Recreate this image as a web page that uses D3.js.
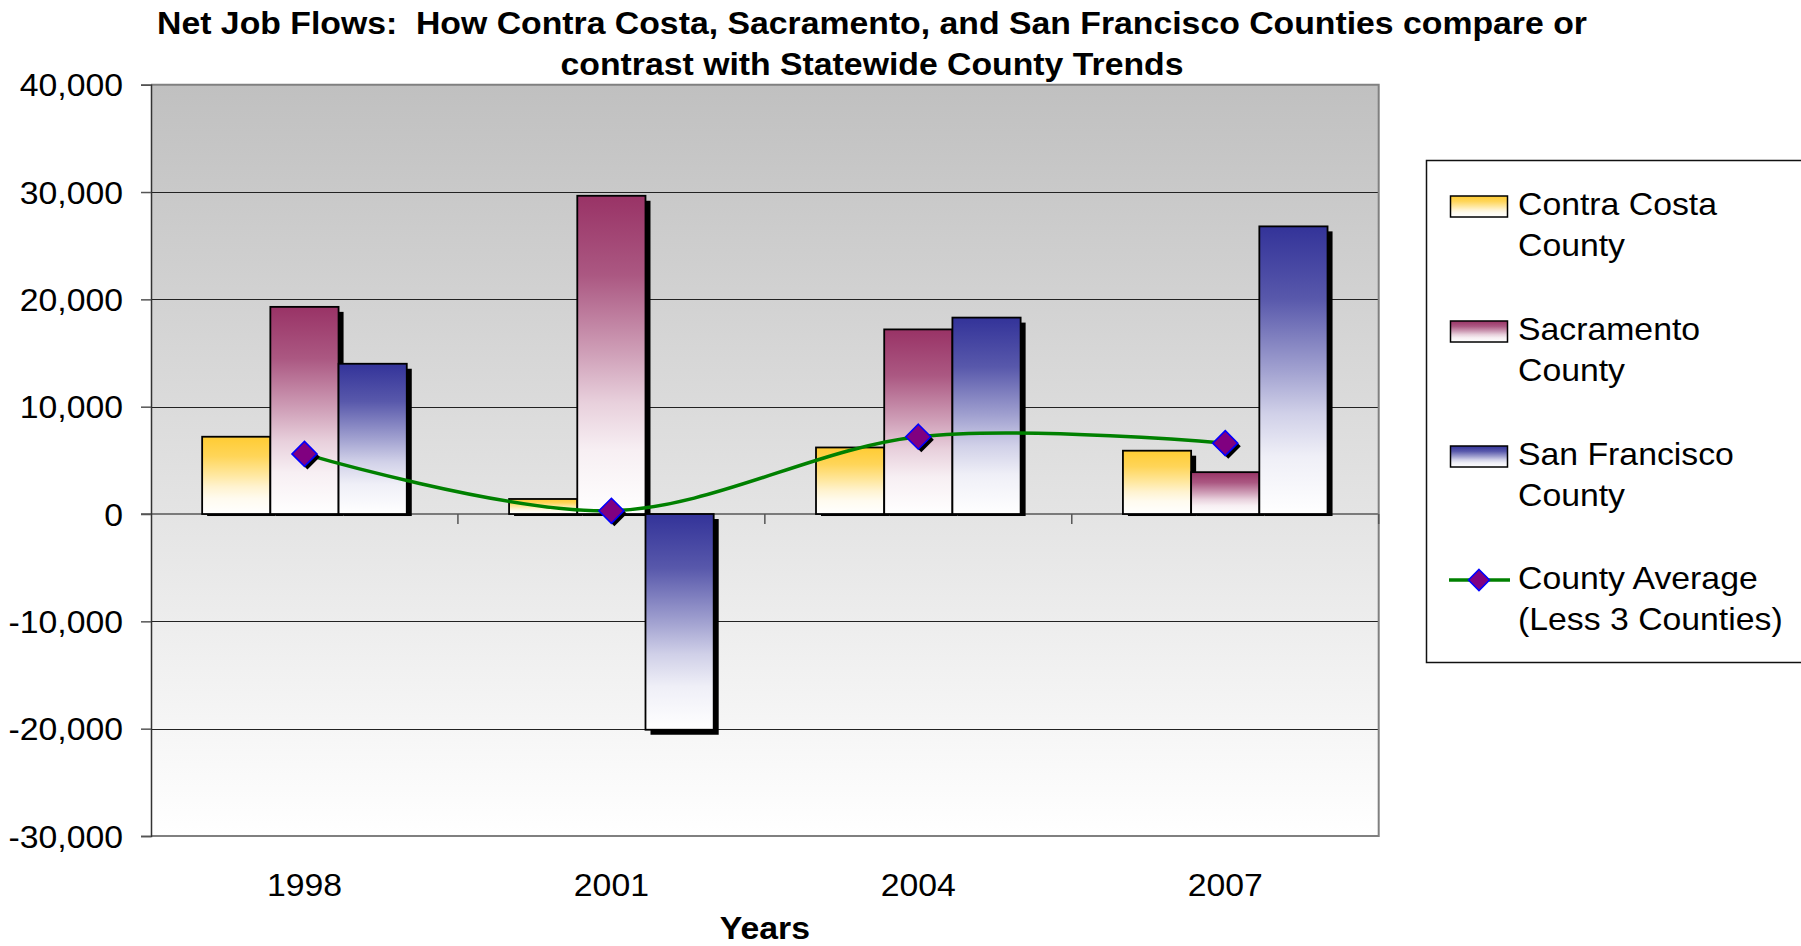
<!DOCTYPE html>
<html>
<head>
<meta charset="utf-8">
<script src="https://cdn.jsdelivr.net/npm/d3@7"></script>
<style>
  body { margin: 0; background: #fff; }
  svg { display: block; }
  text { font-family: "Liberation Sans", Arial, sans-serif; fill: #000; }
</style>
</head>
<body>
<svg id="chart" width="1801" height="946"></svg>
<script>
// ---- data ----
const categories = ["1998", "2001", "2004", "2007"];
const contraCosta = [7200, 1400, 6200, 5900];
const sacramento = [19300, 29650, 17200, 3900];
const sanFrancisco = [14000, -20100, 18300, 26800];
const countyAverage = [5600, 300, 7200, 6600];
const yTicks = [-30000, -20000, -10000, 0, 10000, 20000, 30000, 40000];
const seriesNames = ["Contra Costa County", "Sacramento County", "San Francisco County"];
const legendLines = [["Contra Costa", "County"], ["Sacramento", "County"], ["San Francisco", "County"], ["County Average", "(Less 3 Counties)"]];
const titleLines = ["Net Job Flows:  How Contra Costa, Sacramento, and San Francisco Counties compare or", "contrast with Statewide County Trends"];
const xTitle = "Years";
const seriesColors = ["#FFCC33", "#993366", "#333399"];

// ---- layout ----
const SX = 1.09; // horizontal text stretch
const FS = 31;
const plot = { left: 151, right: 1378.7, top: 84.7, bottom: 836 };

const svg = d3.select("#chart");
const defs = svg.append("defs");

const fmt = d3.formatLocale({ decimal: ".", thousands: ",", grouping: [3], currency: ["$", ""], minus: "-" }).format(",");

const x = d3.scaleBand().domain(categories).range([plot.left, plot.right]).padding(0);
const y = d3.scaleLinear().domain([-30000, 40000]).range([plot.bottom, plot.top]);
const bw = x.bandwidth() / 4.5;
const groupOff = (x.bandwidth() - 3 * bw) / 2;
const y0 = y(0);

// gradients
const whiteStops = [[0, 0], [0.25, 0.18], [0.5, 0.54], [0.65, 0.77], [0.8, 0.92], [1, 1]];
seriesColors.forEach((c, i) => {
  const g = defs.append("linearGradient").attr("id", "grad" + i)
    .attr("x1", 0).attr("y1", 0).attr("x2", 0).attr("y2", 1);
  whiteStops.forEach(([o, w]) => {
    g.append("stop").attr("offset", o).attr("stop-color", d3.interpolateRgb(c, "#ffffff")(w));
  });
});
const bg = defs.append("linearGradient").attr("id", "bggrad").attr("x1", 0).attr("y1", 0).attr("x2", 0).attr("y2", 1);
bg.append("stop").attr("offset", 0).attr("stop-color", "#C0C0C0");
bg.append("stop").attr("offset", 1).attr("stop-color", "#FFFFFF");

// plot background
svg.append("rect")
  .attr("x", plot.left).attr("y", plot.top)
  .attr("width", plot.right - plot.left).attr("height", plot.bottom - plot.top)
  .attr("fill", "url(#bggrad)");

// gridlines
svg.append("g").selectAll("line").data(yTicks.filter(t => t !== 0 && t !== 40000 && t !== -30000)).join("line")
  .attr("x1", plot.left).attr("x2", plot.right)
  .attr("y1", d => Math.round(y(d)) + 0.5).attr("y2", d => Math.round(y(d)) + 0.5)
  .attr("stroke", "#222").attr("stroke-width", 1);

// plot border (top, right, bottom)
svg.append("path")
  .attr("d", `M${plot.left},${plot.top} H${plot.right} V${plot.bottom} H${plot.left}`)
  .attr("fill", "none").attr("stroke", "#808080").attr("stroke-width", 2);

// zero axis line with boundary ticks
const zeroG = svg.append("g");
zeroG.append("line").attr("x1", plot.left - 10).attr("x2", plot.right)
  .attr("y1", y0).attr("y2", y0).attr("stroke", "#7a7a7a").attr("stroke-width", 2);
const boundaries = categories.map(c => x(c)).slice(1).concat([plot.right]);
zeroG.selectAll("line.tk").data(boundaries).join("line").attr("class", "tk")
  .attr("x1", d => d).attr("x2", d => d).attr("y1", y0).attr("y2", y0 + 10)
  .attr("stroke", "#555").attr("stroke-width", 1.5);

// bars
const allSeries = [contraCosta, sacramento, sanFrancisco];
const barsG = svg.append("g");
categories.forEach((cat, j) => {
  allSeries.forEach((vals, i) => {
    const v = vals[j];
    const bx = x(cat) + groupOff + i * bw;
    const top = Math.min(y(v), y0);
    const h = Math.abs(y(v) - y0);
    // shadow
    if (v >= 0) {
      barsG.append("rect").attr("x", bx + 5).attr("y", top + 5).attr("width", bw).attr("height", Math.max(0, h - 3)).attr("fill", "#000");
    } else {
      barsG.append("rect").attr("x", bx + 5).attr("y", y0 + 5).attr("width", bw).attr("height", h).attr("fill", "#000");
    }
    barsG.append("rect").attr("x", bx).attr("y", top).attr("width", bw).attr("height", h)
      .attr("fill", `url(#grad${i})`).attr("stroke", "#000").attr("stroke-width", 1.8);
  });
});

// y axis
const yAxis = svg.append("g").attr("transform", `translate(${plot.left},0)`)
  .call(d3.axisLeft(y).tickValues(yTicks).tickSize(10).tickFormat(fmt));
yAxis.select(".domain").attr("stroke", "#333").attr("stroke-width", 1.5);
yAxis.selectAll(".tick line").attr("stroke", "#555").attr("stroke-width", 1.5);
yAxis.selectAll(".tick text")
  .attr("x", null).attr("dy", "0.36em")
  .attr("transform", `translate(-28,0) scale(${SX},1)`)
  .attr("font-size", FS).attr("font-family", "Liberation Sans, Arial, sans-serif").attr("fill", "#000");

// x axis labels
const xAxis = svg.append("g").attr("transform", `translate(0,${plot.bottom})`)
  .call(d3.axisBottom(x).tickSize(0));
xAxis.select(".domain").remove();
xAxis.selectAll(".tick text")
  .attr("y", null).attr("dy", null)
  .attr("transform", `translate(0,60) scale(${SX},1)`)
  .attr("font-size", FS).attr("font-family", "Liberation Sans, Arial, sans-serif").attr("fill", "#000");

// average line
const cx = c => x(c) + x.bandwidth() / 2;
const line = d3.line().x((d, i) => cx(categories[i])).y(d => y(d)).curve(d3.curveCardinal.tension(0));
svg.append("path").datum(countyAverage).attr("d", line)
  .attr("fill", "none").attr("stroke", "#008000").attr("stroke-width", 3.5);

const diamond = r => `M0,${-r} L${r},0 L0,${r} L${-r},0 Z`;
const markG = svg.append("g");
countyAverage.forEach((v, i) => {
  const px = cx(categories[i]), py = y(v);
  markG.append("path").attr("d", diamond(12.5)).attr("transform", `translate(${px + 3},${py + 3})`).attr("fill", "#000");
  markG.append("path").attr("d", diamond(12.5)).attr("transform", `translate(${px},${py})`)
    .attr("fill", "#800080").attr("stroke", "#0000FF").attr("stroke-width", 1.6);
});

// title
const stretchText = (g, str, tx, ty, opts) => {
  const t = g.append("text").attr("transform", `translate(${tx},${ty}) scale(${SX},1)`)
    .attr("font-size", FS).text(str);
  if (opts && opts.bold) t.attr("font-weight", "bold");
  if (opts && opts.anchor) t.attr("text-anchor", opts.anchor);
  return t;
};
const titleG = svg.append("g");
stretchText(titleG, titleLines[0], 872, 34, { bold: true, anchor: "middle" }).style("white-space", "pre");
stretchText(titleG, titleLines[1], 872, 75, { bold: true, anchor: "middle" });

// x title
stretchText(svg, xTitle, (plot.left + plot.right) / 2, 939, { bold: true, anchor: "middle" });

// legend
const legG = svg.append("g");
legG.append("rect").attr("x", 1426.5).attr("y", 160.5).attr("width", 400).attr("height", 502)
  .attr("fill", "#fff").attr("stroke", "#111").attr("stroke-width", 1.5);
const legBase = [215, 340, 465, 589];
seriesNames.forEach((n, i) => {
  legG.append("rect").attr("x", 1450.5).attr("y", legBase[i] - 19).attr("width", 57).attr("height", 21)
    .attr("fill", `url(#grad${i})`).attr("stroke", "#000").attr("stroke-width", 1.5);
});
legG.append("line").attr("x1", 1449).attr("x2", 1510).attr("y1", 580).attr("y2", 580)
  .attr("stroke", "#008000").attr("stroke-width", 3.5);
legG.append("path").attr("d", diamond(10.5)).attr("transform", "translate(1479,580)")
  .attr("fill", "#800080").attr("stroke", "#0000FF").attr("stroke-width", 1.6);
legendLines.forEach((lines, i) => {
  lines.forEach((s, k) => {
    stretchText(legG, s, 1518, legBase[i] + 41 * k, { anchor: "start" });
  });
});
</script>
</body>
</html>
